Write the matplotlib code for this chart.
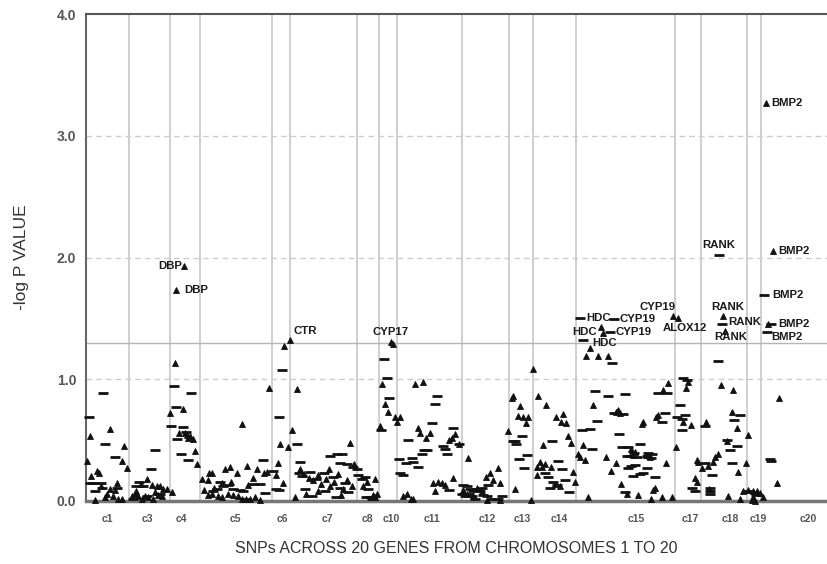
import numpy as np
import matplotlib as mpl
import matplotlib.pyplot as plt

mpl.rcParams['font.family'] = ['Liberation Sans', 'DejaVu Sans']

# SNP position along the concatenated genes, and -log10(P)
triangles = [
    # c1
    (4, 0.53), (1, 0.33), (5, 0.205), (11, 0.245), (13, 0.23), (9, 0.01), (24, 0.59), (38, 0.455),
    (36, 0.33), (41, 0.27), (31, 0.15), (21, 0.06), (24, 0.10), (27, 0.04), (29, 0.09), (32, 0.02),
    (36, 0.015), (19, 0.03), (15, 0.12),
    # c3
    (61, 0.18), (55, 0.14), (66, 0.13), (71, 0.12), (74, 0.12), (77, 0.10), (81, 0.10), (46, 0.04),
    (49, 0.06), (52, 0.04), (56, 0.02), (59, 0.04), (62, 0.03), (67, 0.015), (72, 0.05), (76, 0.04),
    (50, 0.08), (69, 0.07),
    # c4
    (89, 1.13), (84, 0.72), (97, 0.755), (93, 0.555), (99, 0.555), (101, 0.54), (104, 0.53),
    (107, 0.51), (109, 0.41), (111, 0.30), (86, 0.07), (102, 0.52),
    # c5
    (116, 0.18), (123, 0.23), (126, 0.23), (156, 0.63), (139, 0.26), (144, 0.28), (161, 0.29),
    (151, 0.23), (171, 0.26), (178, 0.23), (181, 0.24), (183, 0.93), (118, 0.09), (122, 0.05),
    (126, 0.06), (132, 0.04), (136, 0.03), (142, 0.06), (147, 0.05), (152, 0.04), (156, 0.02),
    (160, 0.015), (164, 0.02), (169, 0.03), (174, 0.01), (128, 0.11), (136, 0.15), (162, 0.13),
    (167, 0.19), (145, 0.16), (122, 0.17),
    # c6
    (198, 1.27), (194, 0.47), (202, 0.445), (192, 0.315), (190, 0.21), (197, 0.15),
    # c7
    (206, 0.58), (211, 0.92), (209, 0.03), (264, 0.48), (214, 0.26), (218, 0.22), (223, 0.19),
    (227, 0.17), (232, 0.21), (235, 0.14), (240, 0.18), (244, 0.12), (248, 0.16), (252, 0.22),
    (257, 0.10), (261, 0.17), (266, 0.12), (255, 0.05), (232, 0.08), (220, 0.06), (243, 0.26),
    (268, 0.30),
    # c8
    (281, 0.16), (277, 0.12), (289, 0.18), (291, 0.06), (287, 0.05), (289, 0.035),
    # c10
    (296, 0.96), (299, 0.80), (302, 0.73), (294, 0.62), (309, 0.69), (307, 1.29),
    # c11
    (314, 0.69), (311, 0.645), (329, 0.96), (337, 0.975), (332, 0.60), (334, 0.555), (340, 0.515),
    (344, 0.56), (369, 0.55), (363, 0.505), (366, 0.52), (373, 0.47), (367, 0.19), (347, 0.15),
    (352, 0.16), (356, 0.145), (359, 0.13), (349, 0.08), (317, 0.04), (321, 0.06), (325, 0.02),
    (327, 0.015),
    # c12
    (382, 0.35), (412, 0.27), (404, 0.23), (407, 0.17), (414, 0.15), (400, 0.20), (377, 0.09),
    (381, 0.06), (391, 0.11), (396, 0.08), (401, 0.01), (414, 0.01), (387, 0.04),
    # c13
    (426, 0.85), (427, 0.86), (434, 0.78), (432, 0.70), (437, 0.69), (442, 0.69), (440, 0.64),
    (422, 0.575), (447, 1.085), (429, 0.10), (445, 0.01),
    # c14
    (452, 0.86), (460, 0.79), (470, 0.69), (477, 0.715), (475, 0.65), (480, 0.64), (482, 0.53),
    (485, 0.48), (457, 0.46), (454, 0.32), (451, 0.28), (456, 0.28), (465, 0.28), (451, 0.21),
    (469, 0.14), (474, 0.12), (487, 0.24), (489, 0.16), (459, 0.30),
    # c15
    (500, 1.19), (512, 1.19), (522, 1.19), (504, 1.26), (517, 1.38), (507, 0.79), (532, 0.75),
    (530, 0.735), (534, 0.725), (557, 0.65), (556, 0.63), (572, 0.71), (570, 0.69), (582, 0.97),
    (577, 0.91), (497, 0.46), (492, 0.39), (494, 0.365), (499, 0.34), (520, 0.365), (545, 0.43),
    (549, 0.40), (547, 0.38), (560, 0.38), (564, 0.36), (580, 0.315), (530, 0.31), (525, 0.25),
    (535, 0.14), (569, 0.11), (567, 0.09), (541, 0.06), (552, 0.05), (502, 0.03), (565, 0.015),
    (576, 0.03), (586, 0.03),
    # c17
    (600, 0.93), (602, 0.98), (597, 0.65), (605, 0.625), (590, 0.445), (611, 0.34), (609, 0.19),
    (611, 0.16), (612, 0.32),
    # c18
    (620, 0.645), (635, 0.95), (647, 0.91), (646, 0.73), (651, 0.60), (641, 0.49), (632, 0.39),
    (629, 0.36), (627, 0.32), (616, 0.27), (622, 0.29), (652, 0.24), (623, 0.095), (642, 0.04),
    (654, 0.015),
    # c19
    (662, 0.54), (660, 0.31), (657, 0.08), (662, 0.09), (667, 0.085), (671, 0.08), (674, 0.065),
    (677, 0.03), (667, 0.035), (666, 0.01), (669, 0.0),
    # c20
    (693, 0.85), (691, 0.15),
]

dashes = [
    # c1
    (3, 0.69), (17, 0.89), (19, 0.47), (29, 0.36), (4, 0.15), (7, 0.15), (15, 0.145), (16, 0.11),
    (31, 0.11), (9, 0.08),
    # c3
    (69, 0.42), (65, 0.26), (53, 0.16), (57, 0.12), (50, 0.12), (74, 0.06), (47, 0.02), (61, 0.04),
    # c4
    (88, 0.945), (105, 0.89), (90, 0.775), (85, 0.615), (97, 0.61), (91, 0.51), (100, 0.565),
    (95, 0.39), (102, 0.34),
    # c5
    (177, 0.34), (134, 0.16), (137, 0.12), (142, 0.13), (147, 0.10), (154, 0.09), (157, 0.085),
    (167, 0.14), (174, 0.14), (127, 0.08), (131, 0.10), (179, 0.065), (159, 0.02),
    # c6
    (196, 1.08), (193, 0.69), (187, 0.25), (190, 0.10), (193, 0.09),
    # c7
    (211, 0.47), (213, 0.23), (216, 0.205), (244, 0.37), (251, 0.39), (256, 0.39), (254, 0.315),
    (261, 0.30), (267, 0.28), (214, 0.32), (224, 0.24), (230, 0.18), (238, 0.23), (247, 0.20),
    (254, 0.11), (262, 0.07), (239, 0.08), (226, 0.04), (219, 0.10), (250, 0.03), (259, 0.15),
    (271, 0.26),
    # c8
    (272, 0.21), (276, 0.18), (279, 0.20), (282, 0.10), (284, 0.035), (286, 0.02), (280, 0.03),
    # c10
    (298, 1.17), (301, 1.01), (303, 0.85), (295, 0.58),
    # c11
    (351, 0.865), (349, 0.80), (346, 0.64), (367, 0.60), (322, 0.50), (373, 0.47), (338, 0.42),
    (341, 0.42), (336, 0.39), (357, 0.45), (359, 0.43), (361, 0.39), (313, 0.345), (320, 0.315),
    (327, 0.32), (326, 0.35), (332, 0.28), (314, 0.23), (317, 0.215), (363, 0.09),
    # c12
    (377, 0.13), (381, 0.12), (384, 0.10), (387, 0.08), (391, 0.10), (394, 0.085), (397, 0.05),
    (401, 0.04), (406, 0.02), (412, 0.02), (416, 0.04), (376, 0.06), (379, 0.04), (383, 0.06),
    (386, 0.04), (389, 0.02), (396, 0.105), (402, 0.13),
    # c13
    (427, 0.49), (430, 0.47), (429, 0.495), (436, 0.53), (441, 0.38), (433, 0.345), (438, 0.275),
    # c14
    (466, 0.49), (472, 0.33), (476, 0.26), (459, 0.23), (462, 0.195), (467, 0.16), (479, 0.17),
    (483, 0.077), (464, 0.11), (471, 0.13),
    # c15
    (526, 1.13), (509, 0.90), (522, 0.865), (539, 0.875), (528, 0.725), (537, 0.715), (511, 0.66),
    (496, 0.58), (504, 0.595), (579, 0.725), (576, 0.645), (572, 0.89), (581, 0.885), (533, 0.55),
    (506, 0.425), (536, 0.44), (542, 0.44), (554, 0.47), (544, 0.37), (548, 0.395), (551, 0.36),
    (541, 0.37), (562, 0.395), (561, 0.37), (566, 0.385), (565, 0.35), (545, 0.29), (549, 0.295),
    (542, 0.27), (561, 0.27), (557, 0.23), (554, 0.225), (547, 0.205), (569, 0.20), (539, 0.07),
    # c17
    (597, 1.01), (601, 0.99), (594, 0.79), (591, 0.69), (596, 0.67), (599, 0.705), (596, 0.58),
    (609, 0.085), (606, 0.11),
    # c18
    (632, 1.15), (654, 0.705), (648, 0.665), (619, 0.62), (641, 0.505), (651, 0.455), (644, 0.42),
    (619, 0.31), (646, 0.31), (626, 0.21), (624, 0.08), (624, 0.06), (624, 0.105),
    # c19
    (662, 0.08), (666, 0.07), (670, 0.05),
    # c20
    (684, 0.345), (685, 0.33),
]

# named SNPs above the threshold: gene, position, -log P, marker
gene_hits = [
    ('DBP', 98, 1.93, '^'), ('DBP', 90, 1.73, '^'), ('CTR', 204, 1.32, '^'),
    ('CYP17', 305, 1.305, '^'),
    ('HDC', 494, 1.50, '_'), ('CYP19', 528, 1.495, '_'), ('HDC', 515, 1.43, '^'),
    ('CYP19', 524, 1.39, '_'), ('HDC', 497, 1.32, '_'),
    ('CYP19', 587, 1.52, '^'), ('ALOX12', 592, 1.50, '^'),
    ('RANK', 633, 2.02, '_'), ('RANK', 637, 1.52, '^'), ('RANK', 636, 1.45, '_'),
    ('RANK', 639, 1.40, '^'),
    ('BMP2', 680, 3.27, '^'), ('BMP2', 687, 2.05, '^'), ('BMP2', 678, 1.69, '_'),
    ('BMP2', 685, 1.455, '_'), ('BMP2', 681, 1.39, '_'),
]
extra_hits = [(682, 1.455)]  # triangle next to a labelled BMP2 dash

chrom_names = ['c1', 'c3', 'c4', 'c5', 'c6', 'c7', 'c8', 'c10', 'c11', 'c12', 'c13', 'c14',
               'c15', 'c17', 'c18', 'c19', 'c20']
chrom_mid = [21, 61, 95, 149, 196, 241, 281, 305, 346, 401, 436, 473, 550, 604, 644, 672, 722]
chrom_edges = [43, 84, 114, 186, 204, 271, 293, 311, 376, 423, 447, 490, 589, 615, 661, 675]

threshold = -np.log10(0.05)

# label placement (offset in pixels, ha, va)
label_pos = [
    ((-2, 0), 'right', 'center'), ((8, 0), 'left', 'center'), ((3, 9), 'left', 'center'),
    ((0, 10), 'center', 'center'),
    ((6, 0), 'left', 'center'), ((6, 0), 'left', 'center'), ((-4, -5), 'right', 'center'),
    ((6, 0), 'left', 'center'), ((9, -3), 'left', 'center'),
    ((-15, 9), 'center', 'center'), ((7, -10), 'center', 'center'),
    ((0, 10), 'center', 'center'), ((5, 9), 'center', 'center'), ((6, 2), 'left', 'center'),
    ((6, -6), 'center', 'center'),
    ((5, 0), 'left', 'center'), ((5, 0), 'left', 'center'), ((8, 0), 'left', 'center'),
    ((7, 0), 'left', 'center'), ((4, -5), 'left', 'center'),
]

fig = plt.figure(figsize=(8.27, 5.64), dpi=100)
ax = fig.add_axes([86 / 827, 63 / 564, 741 / 827, 487 / 564])
ax.set_xlim(0, 741)
ax.set_ylim(0, 4.0)

for e in chrom_edges:
    ax.axvline(e, color='#cfcfcf', lw=1.4, zorder=1)
for g in [1.0, 2.0, 3.0]:
    ax.axhline(g, color='#cccccc', lw=1.0, ls=(0, (4, 3)), zorder=1)
ax.axhline(threshold, color='#b5b5b5', lw=1.0, zorder=1)

tx, ty = zip(*triangles)
dx, dy = zip(*dashes)
ax.plot(tx, ty, '^', color='#111111', ms=4.5, mew=0.6, ls='none', zorder=3, clip_on=False)
ax.plot(dx, dy, '_', color='#111111', ms=7, mew=2.0, ls='none', zorder=3, clip_on=False)
ex, ey = zip(*extra_hits)
ax.plot(ex, ey, '^', color='#111111', ms=4.5, mew=0.6, ls='none', zorder=3)

for (gene, x, v, m), (off, ha, va) in zip(gene_hits, label_pos):
    if m == '^':
        ax.plot(x, v, '^', color='#111111', ms=4.5, mew=0.6, zorder=3)
    else:
        ax.plot(x, v, '_', color='#111111', ms=7, mew=2.0, zorder=3)
    ax.annotate(gene, (x, v), xytext=off, textcoords='offset pixels', ha=ha, va=va,
                fontsize=8.2, fontweight='bold', color='#1a1a1a', zorder=4)

ax.set_yticks([0, 1, 2, 3, 4])
ax.set_yticklabels(['0.0', '1.0', '2.0', '3.0', '4.0'])
ax.set_xticks(chrom_mid)
ax.set_xticklabels(chrom_names)
ax.tick_params(axis='y', length=0, pad=7, labelsize=10, labelcolor='#555555')
ax.tick_params(axis='x', length=0, pad=9, labelsize=7.5, labelcolor='#555555')
for lab in ax.get_xticklabels() + ax.get_yticklabels():
    lab.set_fontweight('bold')

ax.spines['right'].set_visible(False)
ax.spines['top'].set_color('#555555')
ax.spines['top'].set_linewidth(1.5)
ax.spines['left'].set_color('#666666')
ax.spines['left'].set_linewidth(1.5)
ax.spines['bottom'].set_color('#777777')
ax.spines['bottom'].set_linewidth(2.5)

ax.set_ylabel('-log P VALUE', fontsize=12.5, color='#333333')
ax.yaxis.set_label_coords(-0.077, 0.5)
ax.set_xlabel('SNPs ACROSS 20 GENES FROM CHROMOSOMES 1 TO 20', fontsize=11.5, color='#333333', va='top')
ax.xaxis.set_label_coords(0.5, -0.082)

plt.savefig('out.png', dpi=100)
